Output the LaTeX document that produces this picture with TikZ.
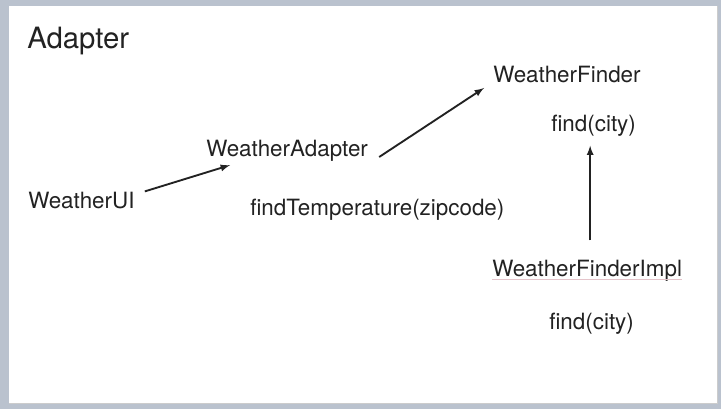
\documentclass[tikz,border=0pt]{standalone}
\usepackage{fontspec}
\setmainfont{TeX Gyre Heros}
\definecolor{slideframe}{RGB}{186,194,206}
\definecolor{ink}{RGB}{34,34,34}
\definecolor{spell}{RGB}{228,196,202}
\begin{document}
\begin{tikzpicture}[x=0.75pt,y=-0.75pt,
	lbl/.style={anchor=base west,inner sep=0pt,text=ink,font=\fontsize{16.8}{20}\selectfont},
	ttl/.style={lbl,font=\fontsize{22}{26}\selectfont},
	arr/.style={-latex,line width=1.4pt,draw=ink}]
	% slide
	\fill[slideframe] (0,0) rectangle (721,409);
	\fill[white] (9,6) rectangle (717,403);
	\draw[black!20,line width=0.6pt] (9,403.5)--(717.5,403.5)--(717.5,6);
	% texts
	\node[ttl] (title) at (27,49) {Adapter};
	\node[lbl] (ui) at (28,209) {WeatherUI};
	\node[lbl] (adapter) at (206,157) {WeatherAdapter};
	\node[lbl] (findtemp) at (250,216) {findTemperature(zipcode)};
	\node[lbl] (finder) at (493,83) {WeatherFinder};
	\node[lbl] (findcity) at (551,131.5) {find(city)};
	\node[lbl] (impl) at (492,277) {WeatherFinderImpl};
	\node[lbl] (implfind) at (549,330) {find(city)};
	\draw[spell,line width=0.6pt] ([yshift=-1.8pt]impl.base west)--([yshift=-1.8pt]impl.base east);
	% arrows
	\draw[arr] ([shift={(10,-1)}]ui.north east)--([shift={(24,3)}]adapter.south west);
	\draw[arr] ([shift={(11,0)}]adapter.base east)--([shift={(-9,5)}]finder.base west);
	\coordinate (up) at ([shift={(3,-20)}]impl.north);
	\draw[arr,shorten >=6.75pt] (up)--(up |- findcity.south);
\end{tikzpicture}
\end{document}
